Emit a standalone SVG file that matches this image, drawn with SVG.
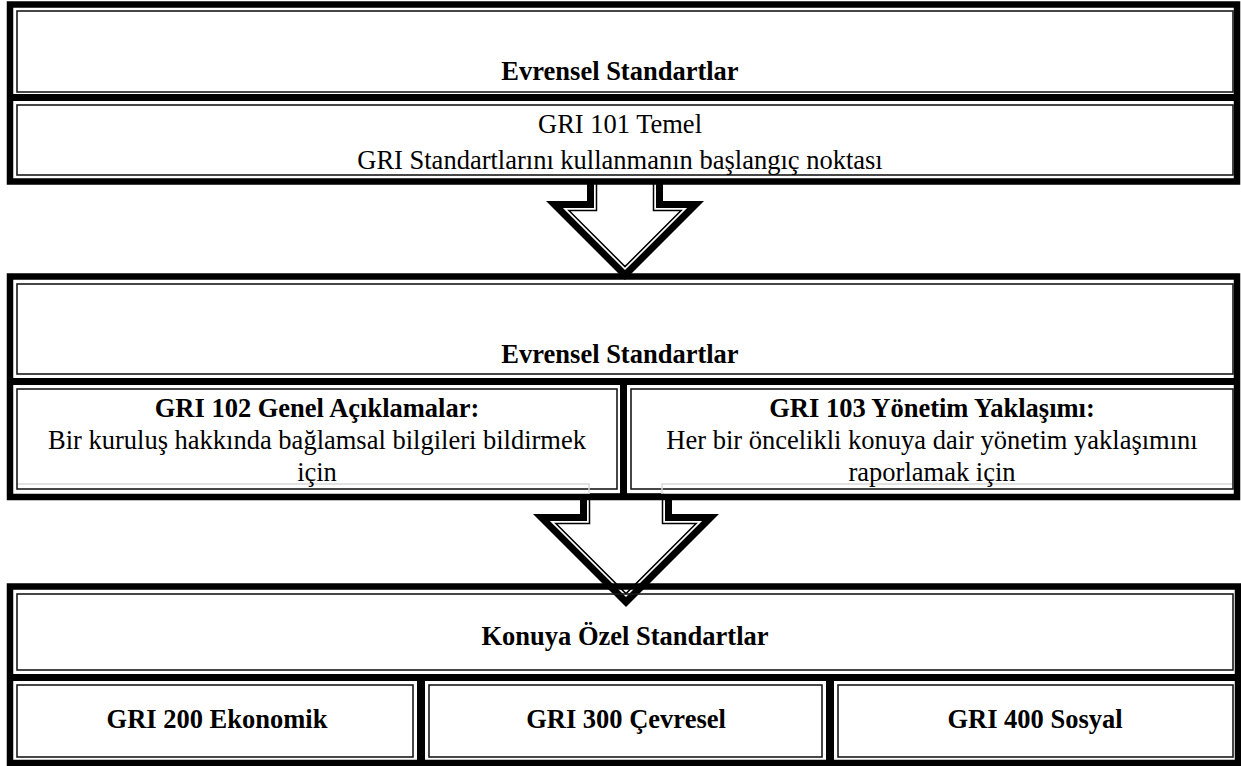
<svg xmlns="http://www.w3.org/2000/svg" width="1241" height="766" viewBox="0 0 1241 766">
<style>
.frame{fill:none;stroke:#000;stroke-width:6.5}
.bar{fill:#000}
.thin{fill:none;stroke:#1a1a1a;stroke-width:1.6}
.ghost{fill:none;stroke:#d9d9d9;stroke-width:1.5}
text{font-family:'Liberation Serif','Times New Roman',Tinos,'DejaVu Serif',serif;font-size:26.5px;text-anchor:middle;fill:#000}
.b{font-weight:bold}
.aout{fill:#000}
.ain{fill:#fff}
.aline{fill:none;stroke:#000;stroke-width:1.5}
</style>
<rect x="0" y="0" width="1241" height="766" fill="#fff"/>

<g id="connectors">
  <g id="arrow1">
    <polygon class="aout" points="587,180 587,201 546,201 625,280 704,201 663,201 663,180"/>
    <polygon class="ain" points="594,180 594,208 562.9,208 625,270.1 687.1,208 656,208 656,180"/>
    <polygon class="aline" points="596.5,180 596.5,210.5 568.9,210.5 625,266.6 681.1,210.5 653.5,210.5 653.5,180"/>
  </g>
  <g id="arrow2">
    <polygon class="aout" points="580,494 580,514 533,514 626,607 719,514 672,514 672,494"/>
    <polygon class="ain" points="587,494 587,521 549.9,521 626,597.1 702.1,521 665,521 665,494"/>
    <polygon class="aline" points="589.5,494 589.5,523.5 555.9,523.5 626,593.6 696.1,523.5 662.5,523.5 662.5,494"/>
  </g>
</g>

<g id="box1" font-family="Liberation Serif, serif">
  <rect class="frame" x="10" y="4.5" width="1227" height="177"/>
  <rect class="bar" x="7" y="94" width="1233" height="7"/>
  <rect class="thin" x="17" y="11" width="1216" height="81"/>
  <rect class="thin" x="17" y="105" width="1216" height="70"/>
  <text class="b" x="620" y="80">Evrensel Standartlar</text>
  <text x="620" y="133">GRI 101 Temel</text>
  <text x="620" y="169">GRI Standartlarını kullanmanın başlangıç noktası</text>
</g>

<g id="box2" font-family="Liberation Serif, serif">
  <rect class="frame" x="10" y="276.5" width="1227" height="220.5"/>
  <rect class="bar" x="7" y="378" width="1233" height="7"/>
  <rect class="bar" x="620" y="378" width="7" height="120"/>
  <rect class="thin" x="17" y="284" width="1216" height="90"/>
  <rect class="thin" x="17" y="389" width="600" height="100"/>
  <rect class="thin" x="631" y="389" width="602" height="100"/>
  <path class="ghost" d="M18,484 H589 V494 M662,494 V484 H1232"/>
  <text class="b" x="620" y="363">Evrensel Standartlar</text>
  <g id="gri102">
    <text class="b" x="317" y="417">GRI 102 Genel Açıklamalar:</text>
    <text x="317" y="449">Bir kuruluş hakkında bağlamsal bilgileri bildirmek</text>
    <text x="317" y="481">için</text>
  </g>
  <g id="gri103">
    <text class="b" x="932" y="417">GRI 103 Yönetim Yaklaşımı:</text>
    <text x="932" y="449">Her bir öncelikli konuya dair yönetim yaklaşımını</text>
    <text x="932" y="481">raporlamak için</text>
  </g>
</g>

<g id="box3" font-family="Liberation Serif, serif">
  <rect class="frame" x="10" y="586.5" width="1228" height="176.5"/>
  <rect class="bar" x="7" y="674" width="1234" height="7"/>
  <rect class="bar" x="417" y="674" width="8" height="90"/>
  <rect class="bar" x="826" y="674" width="8" height="90"/>
  <rect class="thin" x="17" y="594" width="1216" height="76"/>
  <text class="b" x="625" y="645">Konuya Özel Standartlar</text>
  <g id="gri200">
    <rect class="thin" x="17" y="685" width="396" height="72"/>
    <text class="b" x="217" y="728">GRI 200 Ekonomik</text>
  </g>
  <g id="gri300">
    <rect class="thin" x="429" y="685" width="393" height="72"/>
    <text class="b" x="626" y="728">GRI 300 Çevresel</text>
  </g>
  <g id="gri400">
    <rect class="thin" x="838" y="685" width="395" height="72"/>
    <text class="b" x="1035" y="728">GRI 400 Sosyal</text>
  </g>
</g>
</svg>
